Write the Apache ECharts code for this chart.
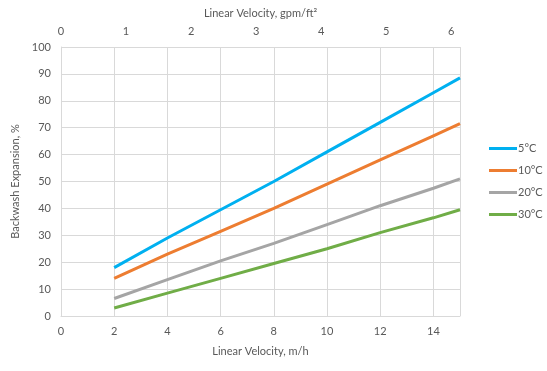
<!DOCTYPE html>
<html><head><meta charset="utf-8">
<script src="https://cdn.jsdelivr.net/npm/echarts@6/dist/echarts.min.js"></script>
<style>html,body{margin:0;padding:0;background:#fff}#c{width:547px;height:371px}</style>
</head><body><div id="c"></div>
<script>
const velocity = [2, 4, 6, 8, 10, 12, 14, 15];
const t5 = [18, 29, 39.5, 50, 61, 72, 83, 88.5];
const t10 = [14, 23, 31.5, 40, 49, 58, 67, 71.5];
const t20 = [6.5, 13.5, 20.5, 27, 34, 41, 47.5, 51];
const t30 = [3, 8.5, 14, 19.5, 25, 31, 36.5, 39.5];
const seriesNames = ['5°C', '10°C', '20°C', '30°C'];
const colors = ['#00B0F0', '#ED7D31', '#A5A5A5', '#70AD47'];
const M_PER_GPM = 2.445;

const font = 'Lato, "Open Sans", sans-serif';
const txt = '#595959';
const chart = echarts.init(document.getElementById('c'), null, {renderer: 'canvas'});
const all = [t5, t10, t20, t30];
chart.setOption({
  animation: false,
  grid: {left: 61, right: 87, top: 47, bottom: 55},
  legend: {
    orient: 'vertical', left: 484, top: 138, itemGap: 11,
    itemWidth: 28, itemHeight: 3, icon: 'rect',
    textStyle: {color: txt, fontFamily: font, fontSize: 11, padding: [0,0,0,-4]},
    data: seriesNames
  },
  xAxis: [{
    type: 'value', min: 0, max: 15, interval: 2, position: 'bottom',
    name: 'Linear Velocity, m/h', nameLocation: 'middle', nameGap: 30,
    nameTextStyle: {color: txt, fontFamily: font, fontSize: 11},
    axisLine: {show: true, lineStyle: {color: '#d9d9d9'}},
    axisTick: {show: false},
    axisLabel: {color: txt, fontFamily: font, fontSize: 11, margin: 10,
      formatter: v => (v % 2 === 0 ? String(v) : '')},
    splitLine: {show: true, lineStyle: {color: '#d9d9d9'}}
  }, {
    type: 'value', min: 0, max: 15 / M_PER_GPM, interval: 1, position: 'top',
    name: 'Linear Velocity, gpm/ft²', nameLocation: 'middle', nameGap: 28,
    nameTextStyle: {color: txt, fontFamily: font, fontSize: 11},
    axisLine: {show: false}, axisTick: {show: false},
    axisLabel: {color: txt, fontFamily: font, fontSize: 11, margin: 10,
      formatter: v => (Math.abs(v - Math.round(v)) < 1e-6 ? String(Math.round(v)) : '')},
    splitLine: {show: false}
  }],
  yAxis: {
    type: 'value', min: 0, max: 100, interval: 10,
    name: 'Backwash Expansion, %', nameLocation: 'middle', nameGap: 33,
    nameTextStyle: {color: txt, fontFamily: font, fontSize: 11},
    axisLine: {show: true, lineStyle: {color: '#d9d9d9'}},
    axisTick: {show: false},
    axisLabel: {color: txt, fontFamily: font, fontSize: 11, margin: 10},
    splitLine: {show: true, lineStyle: {color: '#d9d9d9'}}
  },
  series: all.map((arr, i) => ({
    name: seriesNames[i], type: 'line', xAxisIndex: 0,
    data: velocity.map((x, j) => [x, arr[j]]),
    showSymbol: false, symbol: 'none',
    lineStyle: {width: 3, color: colors[i]}, itemStyle: {color: colors[i]}
  }))
});
</script></body></html>
